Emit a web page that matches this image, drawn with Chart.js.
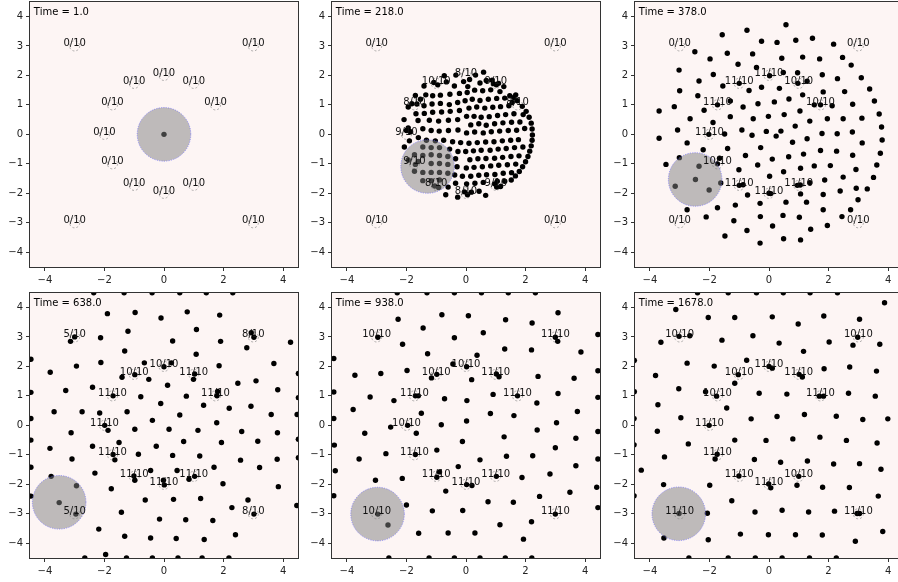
<!DOCTYPE html>
<html>
<head>
<meta charset="utf-8">
<script src="https://cdn.jsdelivr.net/npm/chart.js@4.4.0/dist/chart.umd.min.js"></script>
<style>
  body { margin: 0; background: #fff; width: 898px; height: 582px; overflow: hidden; position: relative; }
  .panel { position: absolute; }
</style>
</head>
<body>
<div class="panel" style="left:-1px;top:-1px"><canvas id="c0" width="302" height="295"></canvas></div>
<div class="panel" style="left:301px;top:-1px"><canvas id="c1" width="302" height="295"></canvas></div>
<div class="panel" style="left:604px;top:-1px"><canvas id="c2" width="302" height="295"></canvas></div>
<div class="panel" style="left:-1px;top:290px"><canvas id="c3" width="302" height="295"></canvas></div>
<div class="panel" style="left:301px;top:290px"><canvas id="c4" width="302" height="295"></canvas></div>
<div class="panel" style="left:604px;top:290px"><canvas id="c5" width="302" height="295"></canvas></div>
<script>
// ---- data ----
const times = ['1.0', '218.0', '378.0', '638.0', '938.0', '1678.0'];
const xTicks = [-4, -2, 0, 2, 4];
const yTicks = [-4, -3, -2, -1, 0, 1, 2, 3, 4];

// target spots (corners + ring of radius 2)
const targetX = [-3, 3, -3, 3, 0, -1, 1, -1.73, 1.73, -2, -1.73, -1, 0, 1];
const targetY = [3, 3, -3, -3, 2, 1.73, 1.73, 1, 1, 0, -1, -1.73, -2, -1.73];

// visit counts shown on each target, per panel
const counts = [
  [0, 0, 0, 0, 0, 0, 0, 0, 0, 0, 0, 0, 0, 0],
  [0, 0, 0, 0, 8, 10, 9, 8, 8, 9, 9, 8, 8, 9],
  [0, 0, 0, 0, 11, 11, 10, 11, 10, 11, 10, 11, 11, 11],
  [5, 8, 5, 8, 10, 10, 11, 11, 11, 11, 11, 11, 11, 11],
  [10, 11, 10, 11, 10, 10, 11, 11, 11, 10, 11, 11, 11, 11],
  [10, 10, 11, 11, 11, 10, 11, 10, 11, 11, 11, 11, 11, 10]
];

// agent (big grey disc) centre per panel
const agentX = [0, -1.29, -2.48, -3.52, -2.97, -3.03];
const agentY = [0, -1.09, -1.53, -2.61, -3.01, -3.0];
const agentR = 0.9;
const targetR = 0.17;

// particles
const dots1 = [[0, 0]];

const dots2 = [
  [-0.73,1.99],[-0.34,2.01],[0.32,2.01],[0.59,2.11],[0.12,1.86],
  [-1.41,1.64],[-1.08,1.76],[-0.95,1.68],[-0.66,1.78],[-0.08,1.79],[-0.39,1.64],[0.06,1.62],[0.47,1.74],[0.68,1.83],[0.92,1.72],[1.02,1.68],[1.09,1.73],[0.88,1.84],[1.27,1.62],
  [-1.70,1.32],[-1.35,1.34],[-1.12,1.31],[-0.86,1.33],[-0.54,1.36],[-0.22,1.39],[0.04,1.42],[0.29,1.50],[0.56,1.48],[0.83,1.51],[1.14,1.45],[1.47,1.31],[1.61,1.25],[1.67,1.34],
  [-1.82,1.04],[-1.65,1.03],[-1.53,1.19],[-1.94,0.93],[-1.41,0.97],[-1.14,1.03],[-0.86,1.05],[-0.56,1.01],[-0.28,1.08],[-0.03,1.14],[0.21,1.19],[0.47,1.15],[0.75,1.19],[1.03,1.22],[1.30,1.23],[1.72,1.14],[1.55,1.08],[1.89,0.95],
  [-1.68,0.70],[-1.40,0.71],[-1.12,0.75],[-0.82,0.76],[-0.53,0.78],[-0.22,0.81],[0.10,0.89],[0.36,0.93],[0.63,0.89],[0.90,0.92],[1.16,0.94],[1.44,0.97],
  [-2.08,0.50],[-1.61,0.47],[-1.23,0.48],[-0.92,0.45],[-0.59,0.48],[-0.28,0.50],[0.02,0.61],[0.27,0.61],[0.51,0.58],[0.78,0.60],[1.06,0.64],[1.33,0.67],[1.61,0.70],[1.92,0.67],
  [0.16,0.32],[0.43,0.36],[0.68,0.31],[0.96,0.36],[1.24,0.39],[1.53,0.41],[1.81,0.42],
  [-2.00,0.13],[-1.86,0.09],[-1.94,0.22],[-1.45,0.19],[-1.17,0.13],[-0.90,0.11],[-0.59,0.13],[-0.27,0.15],[0.02,0.05],[0.29,0.08],[0.58,0.05],[0.85,0.09],[1.13,0.11],[1.42,0.13],[1.70,0.14],[1.97,0.20],
  [-1.90,-0.22],[-1.60,-0.11],[-1.33,-0.20],[-1.03,-0.22],[-0.75,-0.20],[-0.45,-0.25],[-0.18,-0.28],[0.10,-0.30],[0.38,-0.28],[0.66,-0.26],[0.94,-0.25],[1.22,-0.22],[1.50,-0.20],[1.76,-0.18],
  [-2.07,-0.43],[-1.45,-0.43],[-1.17,-0.45],[-0.89,-0.45],[-0.55,-0.50],[-0.27,-0.58],[-0.01,-0.58],[0.25,-0.56],[0.51,-0.54],[0.81,-0.54],[1.08,-0.50],[1.35,-0.48],[1.63,-0.45],[1.91,-0.43],
  [-1.73,-0.69],[-1.45,-0.72],[-1.17,-0.69],[-0.89,-0.72],[-0.61,-0.75],[-0.35,-0.83],[0.13,-0.86],[0.40,-0.83],[0.67,-0.82],[0.96,-0.81],[1.23,-0.78],[1.51,-0.75],[1.78,-0.73],
  [-1.94,-0.87],[-1.70,-1.02],[-1.60,-0.92],[-1.17,-0.99],[-0.89,-0.99],[-0.61,-1.02],[-0.30,-1.10],[0.01,-1.14],[0.27,-1.12],[0.55,-1.10],[0.83,-1.07],[1.10,-1.05],[1.39,-1.03],[1.67,-1.01],
  [-1.73,-1.25],[-1.45,-1.29],[-1.17,-1.29],[-0.89,-1.29],[-0.61,-1.32],[-0.38,-1.38],[-0.12,-1.42],[0.16,-1.42],[0.43,-1.39],[0.69,-1.37],[0.97,-1.36],[1.25,-1.32],[1.53,-1.30],
  [-1.45,-1.57],[-1.17,-1.57],[-0.89,-1.55],[-1.05,-1.75],[-0.92,-1.80],[-0.60,-1.79],[-0.35,-1.66],[0.02,-1.68],[0.30,-1.66],[0.58,-1.63],[0.96,-1.68],[1.03,-1.79],[1.05,-1.59],[1.30,-1.59],[1.16,-1.77],
  [-0.68,-2.05],[-0.28,-2.13],[-0.05,-1.95],[0.05,-2.05],[0.18,-1.96],[0.44,-1.93],[0.66,-2.07],
  [2.02,0.78],[2.12,0.58],[2.19,0.38],[2.22,0.18],[2.23,-0.02],[2.22,-0.20],[2.19,-0.39],[2.14,-0.57],[2.08,-0.75],[2.00,-0.93],[1.90,-1.10],[1.79,-1.26],[1.66,-1.41],[1.52,-1.55]
];

const dots3 = [
  [0.57,3.72],[-0.74,3.53],[-1.57,3.38],[-0.25,3.16],[0.27,3.12],[0.90,3.19],[1.46,3.26],[2.17,3.06],
  [-2.49,2.80],[-1.40,2.75],[-0.55,2.73],[0.43,2.58],[1.13,2.62],[1.70,2.56],[2.47,2.61],[-1.98,2.56],
  [-1.04,2.38],[-0.42,2.27],[0.48,2.10],[0.96,2.09],[1.79,2.02],[-3.02,2.18],[-1.87,2.03],[2.76,2.35],
  [-2.35,1.81],[-1.55,1.64],[-0.67,1.49],[-0.25,1.60],[0.35,1.56],[1.28,1.80],[2.30,1.89],[3.10,1.92],
  [-3.00,1.48],[-2.39,1.31],[-1.30,1.13],[0.18,1.10],[0.67,1.20],[1.13,1.34],[1.82,1.44],[2.54,1.45],[3.38,1.54],
  [-3.69,0.79],[-3.18,0.94],[-2.65,0.53],[-2.18,0.82],[-0.87,0.93],[-0.37,1.04],[0.51,0.67],[1.04,0.79],[1.52,1.00],[1.96,0.53],[2.49,0.53],[2.81,1.02],[3.54,1.13],[3.70,0.69],[2.12,0.97],[3.12,0.55],
  [-1.88,0.40],[-1.30,0.60],[-0.53,0.53],[-0.02,0.61],[0.88,0.28],[1.37,0.45],[1.78,0.03],[2.29,0.02],[2.80,0.08],[3.78,0.25],[0.40,0.11],
  [-3.07,0.15],[-2.75,-0.29],[-3.69,-0.13],[-1.49,0.01],[-0.91,0.15],[-0.57,-0.03],[-0.09,0.10],[0.24,-0.06],[0.79,-0.27],[1.28,-0.15],[1.73,-0.55],[2.27,-0.57],[2.81,-0.71],[3.13,-0.29],[3.80,-0.19],[3.74,-0.64],
  [-3.46,-1.02],[-3.01,-0.79],[-2.35,-1.08],[-2.21,-0.52],[-1.66,-0.81],[-1.39,-0.48],[-0.79,-0.72],[-0.28,-0.45],[0.11,-0.84],[0.66,-0.76],[1.16,-0.67],[1.52,-1.07],[2.06,-1.06],[2.92,-1.19],[3.51,-1.46],[3.62,-1.04],
  [-3.15,-1.76],[-2.47,-1.53],[-2.01,-1.89],[-1.62,-1.65],[-1.01,-1.20],[-0.87,-1.71],[-0.38,-1.04],[0.02,-1.42],[0.49,-1.27],[1.06,-1.15],[1.37,-1.64],[1.87,-1.55],[2.49,-1.45],[2.93,-1.83],[3.30,-1.85],
  [-2.75,-2.56],[-2.11,-2.80],[-1.73,-2.49],[-1.18,-2.93],[-1.13,-2.40],[-0.72,-2.06],[-0.30,-2.34],[0.06,-2.01],[0.57,-2.30],[1.06,-2.02],[1.26,-2.30],[1.82,-2.04],[1.82,-2.56],[2.39,-1.92],[2.74,-2.56],[2.99,-2.22],
  [-1.48,-3.45],[-0.74,-3.26],[-0.29,-2.79],[0.12,-3.11],[0.47,-2.75],[1.02,-2.81],[1.40,-3.22],[1.96,-3.09],[2.45,-2.79],
  [-0.30,-3.69],[0.49,-3.54],[1.06,-3.58],
  [0.02,1.99],[-1.00,1.73],[0.97,1.73],[-1.73,1.00],[1.73,1.00],[-2.02,0.00],[-1.73,-1.00],[-1.00,-1.73],[0.00,-2.00],[0.95,-1.73],[1.05,-1.72]
];

const dots4 = [
  [-2.36,4.5],[-1.34,4.5],[-0.40,4.5],[0.53,4.5],[1.42,4.5],[2.31,4.5],
  [-1.90,3.79],[-0.97,3.83],[-0.10,3.64],[0.78,3.85],[1.87,3.74],
  [-1.21,3.19],[-2.13,2.97],[-3.14,2.85],[-3.00,3.00],[0.29,2.86],[1.09,3.25],[1.90,2.85],[2.93,3.14],[3.02,2.99],[4.25,2.82],[2.78,2.63],
  [-1.32,2.52],[1.08,2.41],[3.69,2.10],
  [-2.94,2.01],[-2.12,2.13],[-0.66,2.12],[0.00,1.99],[0.25,2.12],[-3.82,1.80],[-1.41,1.63],[-0.98,1.72],[-0.51,1.56],[1.03,1.74],[0.99,1.56],[1.85,2.02],[2.48,1.43],[3.09,1.51],[4.51,1.76],
  [-4.47,1.12],[-3.30,1.18],[-2.40,1.29],[-1.71,1.00],[-0.78,0.97],[0.12,1.36],[0.75,0.99],[1.33,0.68],[1.78,1.00],[1.80,1.15],[2.19,0.58],[2.92,0.65],[3.82,1.21],[4.51,0.94],
  [-3.69,0.46],[-2.75,0.46],[-2.16,0.42],[-1.24,0.46],[-0.11,0.74],[0.53,0.35],[3.60,0.37],[4.47,0.37],[-4.47,0.23],
  [-1.99,0.00],[-1.88,-0.17],[-3.12,-0.25],[-0.98,-0.13],[-0.39,0.17],[0.17,-0.13],[1.14,-0.17],[1.77,0.09],[2.61,-0.21],[3.81,-0.25],[4.51,-0.47],
  [-4.47,-0.50],[-3.83,-0.78],[-2.40,-0.71],[-1.51,-0.58],[-0.26,-0.71],[0.66,-0.55],[1.93,-0.58],[3.15,-0.54],
  [-3.09,-1.14],[-1.71,-0.99],[-1.65,-1.17],[-0.86,-0.98],[0.29,-1.02],[1.20,-1.04],[2.57,-1.18],[3.80,-1.15],[4.51,-1.10],
  [-4.47,-1.42],[-2.32,-1.62],[-0.45,-1.53],[0.44,-1.53],[1.68,-1.42],[3.21,-1.43],
  [-1.01,-1.72],[-0.98,-1.86],[-3.79,-1.73],[-0.02,-1.86],[0.01,-2.02],[0.84,-1.83],[1.03,-1.73],[1.98,-1.98],[3.84,-2.08],[-2.94,-2.05],[-1.77,-2.15],
  [-4.47,-2.40],[-0.63,-2.53],[0.32,-2.51],[1.23,-2.48],[2.82,-2.53],[2.28,-2.79],[4.46,-2.72],
  [-3.52,-2.62],[-2.96,-3.01],
  [-1.43,-2.95],[-0.15,-3.18],[0.73,-3.20],[1.64,-3.23],[3.02,-3.01],
  [-2.19,-3.52],[-1.32,-3.76],[-0.45,-3.82],[0.41,-3.84],[1.35,-3.87],[2.40,-3.71],
  [-1.96,-4.38],[-2.66,-4.5],[-1.26,-4.5],[-0.39,-4.5],[0.47,-4.5],[1.28,-4.5],[2.18,-4.5],
  [-4.47,2.24]
];

const dots5 = [
  [-2.31,4.5],[-1.31,4.5],[-0.39,4.5],[0.52,4.5],[1.42,4.5],[2.33,4.5],
  [-2.28,3.60],[-0.81,3.75],[0.08,3.72],[3.09,3.82],[1.33,3.58],[2.22,3.47],[-1.44,3.30],[0.58,3.14],[-2.96,2.99],[-0.39,2.97],[3.00,2.99],[3.08,2.85],[-2.13,2.75],[1.30,2.59],[2.20,2.56],[3.86,2.49],[4.43,3.08],[-1.29,2.43],[0.37,2.38],
  [-0.44,2.08],[0.02,1.99],[-3.73,1.70],[-2.86,1.76],[-1.98,1.86],[-1.16,1.61],[-0.98,1.73],[0.19,1.55],[1.02,1.74],[1.11,1.65],[2.42,1.66],[3.63,1.60],[4.43,1.85],
  [-4.44,1.13],[-3.22,0.96],[-2.42,0.84],[-1.70,1.00],[-1.60,1.00],[-0.72,0.90],[0.03,0.84],[0.91,1.05],[1.73,1.00],[2.38,0.76],[3.09,1.08],[4.43,0.95],
  [-3.79,0.54],[-1.50,0.41],[0.82,0.40],[1.61,0.33],[3.74,0.47],
  [-4.44,0.23],[-3.40,-0.27],[-2.53,-0.06],[-1.96,0.00],[-0.83,0.02],[0.02,0.15],[-1.67,-0.27],[1.28,-0.39],[2.39,-0.16],[3.04,0.09],[3.69,-0.44],[4.43,-0.21],
  [-4.42,-0.67],[-2.69,-0.96],[-1.70,-0.99],[-0.98,-0.84],[-0.12,-0.55],[0.47,-1.17],[1.36,-1.05],[2.24,-1.03],[3.00,-0.76],[3.69,-1.37],[4.43,-1.14],
  [-3.59,-1.14],[-4.39,-1.54],[-3.04,-1.86],[-2.14,-1.80],[-0.98,-1.76],[-0.89,-1.58],[-0.26,-1.40],[0.02,-2.01],[0.20,-2.04],[1.02,-1.73],[1.88,-1.77],[2.82,-1.65],[4.39,-2.10],
  [-4.44,-2.39],[-2.00,-2.70],[-0.68,-2.23],[0.74,-2.59],[1.59,-2.61],[2.47,-2.41],[3.49,-2.27],[4.43,-2.79],
  [-2.96,-3.01],[-2.62,-3.38],[-1.13,-2.90],[-0.11,-2.89],[1.14,-3.37],[2.20,-3.27],[3.00,-3.01],
  [-1.59,-3.66],[-0.60,-3.65],[0.30,-3.65],[1.93,-3.86],
  [-2.59,-4.5],[-1.24,-4.5],[-0.39,-4.5],[0.47,-4.5],[1.32,-4.5],[2.21,-4.5],
  [-4.44,2.27]
];

const dots6 = [
  [-2.40,4.5],[-1.37,4.5],[-0.42,4.5],[0.48,4.5],[1.38,4.5],[2.30,4.5],
  [3.88,4.16],[-3.13,3.93],[-2.04,3.66],[-1.15,3.66],[0.11,3.68],[0.98,3.44],[1.84,3.71],[3.04,3.60],
  [-3.02,3.02],[-2.66,3.04],[-3.63,2.82],[-1.58,2.89],[-0.54,3.04],[0.34,2.79],[1.16,2.51],[2.02,2.83],[2.98,2.99],[2.82,2.72],[3.72,2.75],
  [-2.75,2.11],[-1.84,2.01],[-0.75,2.21],[0.00,2.00],[0.11,1.94],[-3.81,1.69],[-1.03,1.72],[-1.15,1.43],[1.01,1.73],[1.12,1.64],[1.85,1.92],[2.71,1.98],[3.61,1.84],
  [-3.03,1.24],[-2.13,1.14],[-1.76,0.99],[-0.33,1.09],[0.60,1.06],[1.69,0.99],[1.83,0.99],[2.67,1.09],[3.57,0.99],
  [-3.73,0.70],[-1.42,0.59],[1.19,0.37],[2.26,0.31],[-4.53,0.23],
  [-2.96,0.26],[-2.01,0.00],[-0.60,0.22],[0.27,0.30],[3.15,0.20],[3.99,0.22],
  [-3.75,-0.20],[-2.71,-0.63],[-1.15,-0.50],[-0.10,-0.51],[0.80,-0.46],[1.71,-0.40],[2.60,-0.51],[3.63,-0.60],[-4.53,-0.66],
  [-3.51,-1.07],[-1.74,-0.98],[-1.81,-1.14],[-0.49,-1.16],[0.39,-1.25],[1.29,-1.21],[2.17,-1.31],[3.04,-1.30],[-4.29,-1.52],[3.76,-1.49],
  [-1.01,-1.72],[-0.01,-1.99],[0.06,-2.12],[0.94,-2.03],[1.00,-1.73],[1.80,-2.10],[2.70,-2.11],[-3.54,-2.01],[-1.99,-2.03],[-1.25,-2.56],[3.67,-2.40],[-4.53,-2.39],
  [-3.02,-2.99],[-2.07,-2.98],[-0.47,-2.94],[0.44,-2.88],[1.33,-2.94],[2.20,-2.91],[2.96,-2.99],[3.04,-2.99],
  [-3.53,-3.82],[-2.04,-3.88],[-0.96,-3.69],[-0.02,-3.71],[0.89,-3.71],[1.79,-3.72],[2.90,-3.93],[3.82,-3.60],
  [-2.69,-4.5],[-1.37,-4.5],[-0.46,-4.5],[0.44,-4.5],[1.36,-4.5],[2.26,-4.5],
  [-4.52,2.20],[-4.52,1.14]
];

const allDots = [dots1, dots2, dots3, dots4, dots5, dots6];

// ---- drawing ----
const FONT = '"DejaVu Sans", sans-serif';
const bgColor = '#fdf5f4';

function fmt(v) {
  return v < 0 ? '\u2212' + Math.abs(v) : String(v);
}

const panelPlugin = {
  id: 'panel',
  beforeDraw(chart) {
    const { ctx, chartArea: a } = chart;
    ctx.save();
    ctx.fillStyle = bgColor;
    ctx.fillRect(a.left, a.top, a.right - a.left, a.bottom - a.top);
    ctx.restore();
  },
  beforeDatasetsDraw(chart) {
    const { ctx, chartArea: a } = chart;
    const xs = chart.scales.x, ys = chart.scales.y;
    ctx.save();
    ctx.beginPath();
    ctx.rect(a.left, a.top, a.right - a.left, a.bottom - a.top);
    ctx.clip();
    ctx.strokeStyle = '#8c8c8c';
    ctx.lineWidth = 0.7;
    ctx.setLineDash([2, 2]);
    targetX.forEach((tx, i) => {
      const px = xs.getPixelForValue(tx);
      const py = ys.getPixelForValue(targetY[i]);
      const r = xs.getPixelForValue(tx + targetR) - px;
      ctx.beginPath();
      ctx.arc(px, py, r, 0, Math.PI * 2);
      ctx.stroke();
    });
    ctx.restore();
  },
  afterDatasetsDraw(chart, args, opts) {
    const k = opts.idx;
    const { ctx, chartArea: a } = chart;
    const xs = chart.scales.x, ys = chart.scales.y;
    ctx.save();
    ctx.beginPath();
    ctx.rect(a.left, a.top, a.right - a.left, a.bottom - a.top);
    ctx.clip();

    // agent disc
    const cx = xs.getPixelForValue(agentX[k]);
    const cy = ys.getPixelForValue(agentY[k]);
    const r = xs.getPixelForValue(agentX[k] + agentR) - cx;
    ctx.beginPath();
    ctx.arc(cx, cy, r, 0, Math.PI * 2);
    ctx.fillStyle = 'rgba(128,128,128,0.5)';
    ctx.fill();
    ctx.setLineDash([1.2, 1.2]);
    ctx.strokeStyle = 'rgba(90,90,255,0.7)';
    ctx.lineWidth = 0.8;
    ctx.stroke();
    ctx.setLineDash([]);

    // target counters
    ctx.font = '10px ' + FONT;
    ctx.fillStyle = '#111';
    ctx.textAlign = 'center';
    ctx.textBaseline = 'alphabetic';
    targetX.forEach((tx, i) => {
      ctx.fillText(counts[k][i] + '/10', xs.getPixelForValue(tx), ys.getPixelForValue(targetY[i]) + 0.5);
    });

    // time stamp
    ctx.textAlign = 'left';
    ctx.fillStyle = '#000';
    ctx.fillText('Time = ' + times[k], xs.getPixelForValue(-4.37), ys.getPixelForValue(4.05));
    ctx.restore();
  },
  afterDraw(chart) {
    const { ctx, chartArea: a } = chart;
    ctx.save();
    ctx.strokeStyle = '#333';
    ctx.lineWidth = 1;
    ctx.strokeRect(Math.round(a.left) - 0.5, Math.round(a.top) - 0.5,
      Math.round(a.right - a.left) + 1, Math.round(a.bottom - a.top) + 1);
    ctx.restore();
  }
};

function axis(ticks, size, horizontal) {
  return {
    type: 'linear',
    min: -4.5,
    max: 4.5,
    afterBuildTicks: s => { s.ticks = ticks.map(v => ({ value: v })); },
    afterFit: s => {
      if (horizontal) {
        s.height = size;
        s.paddingLeft = 0;
        s.paddingRight = 0;
      } else {
        s.width = size;
        s.paddingTop = 0;
        s.paddingBottom = 0;
      }
    },
    border: { display: false },
    grid: { display: true, drawOnChartArea: false, drawTicks: true, tickLength: 4, color: '#333', lineWidth: 1 },
    ticks: {
      color: '#222',
      padding: 3,
      font: { family: FONT, size: 10 },
      maxRotation: 0,
      autoSkip: false,
      callback: v => fmt(v)
    }
  };
}

allDots.forEach((pts, k) => {
  new Chart(document.getElementById('c' + k), {
    type: 'scatter',
    data: {
      datasets: [{
        data: pts.map(p => ({ x: p[0], y: p[1] })),
        backgroundColor: '#000',
        borderWidth: 0,
        pointRadius: 2.7,
        pointHoverRadius: 2.7,
        clip: 0
      }]
    },
    options: {
      responsive: false,
      animation: false,
      devicePixelRatio: 1,
      layout: { padding: { top: 0, right: 3, bottom: 0, left: 0 } },
      scales: {
        x: axis(xTicks, 27, true),
        y: axis(yTicks, 31, false)
      },
      plugins: {
        legend: { display: false },
        tooltip: { enabled: false },
        panel: { idx: k }
      }
    },
    plugins: [panelPlugin]
  });
});
</script>
</body>
</html>
